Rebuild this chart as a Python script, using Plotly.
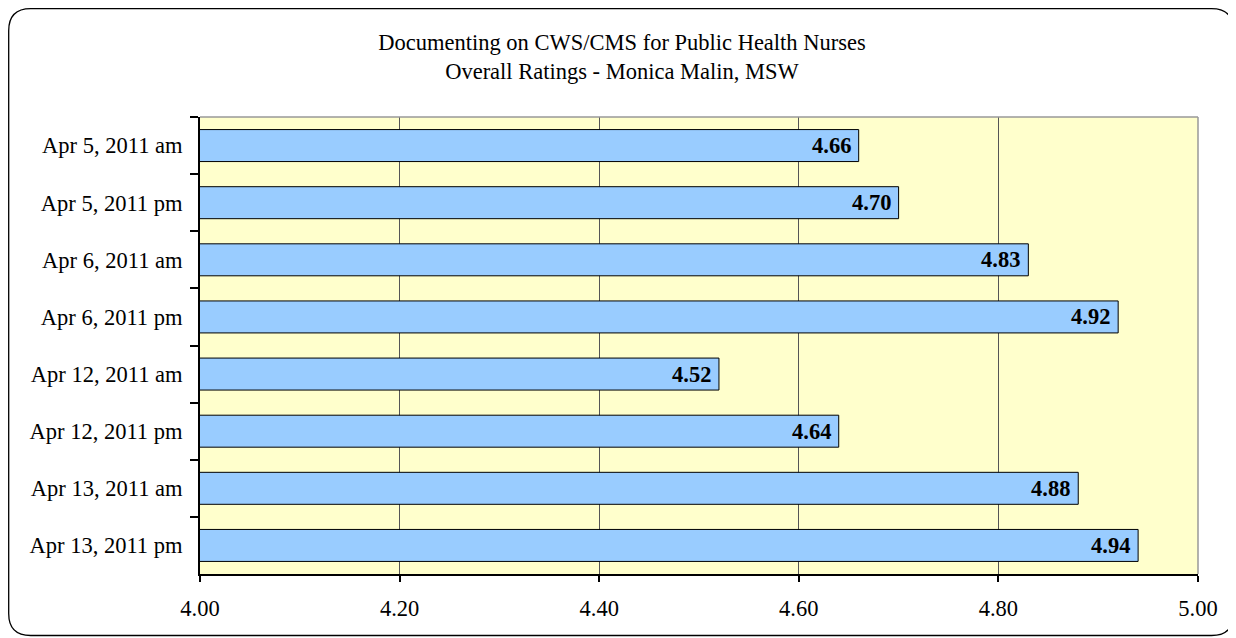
import plotly.graph_objects as go

categories = ["Apr 5, 2011 am", "Apr 5, 2011 pm", "Apr 6, 2011 am", "Apr 6, 2011 pm",
              "Apr 12, 2011 am", "Apr 12, 2011 pm", "Apr 13, 2011 am", "Apr 13, 2011 pm"]
ratings = [4.66, 4.70, 4.83, 4.92, 4.52, 4.64, 4.88, 4.94]
x_ticks = [4.0, 4.2, 4.4, 4.6, 4.8, 5.0]
title_lines = ["Documenting on CWS/CMS for Public Health Nurses",
               "Overall Ratings - Monica Malin, MSW"]

# page has an 8px body margin, so the figure is drawn 8px smaller and offset
W, H = 1228, 630
L, R, T, B = 192, 38, 109, 64
PW, PH = W - L - R, H - T - B
FONT = "Liberation Serif, Times New Roman, serif"
FS = 22.5


def px(xp):
    return (xp - L) / PW


def py(yp):
    return (H - B - yp) / PH


fig = go.Figure()
fig.add_trace(go.Bar(
    y=categories, x=ratings, base=0, orientation="h",
    marker=dict(color="#99CCFF", line=dict(color="#000000", width=1)),
    hoverinfo="x+y",
))

for c, v in zip(categories, ratings):
    fig.add_annotation(x=v, y=c, xref="x", yref="y", text="<b>%.2f</b>" % v,
                       showarrow=False, xanchor="right", xshift=-6,
                       font=dict(family=FONT, size=FS, color="#000000"))

# rounded outer border
x0, x1 = px(0.7), px(1225.5)
y0, y1 = py(627.5), py(0.7)
rx, ry = 22 / PW, 22 / PH
path = (f"M {x0 + rx},{y1} L {x1 - rx},{y1} Q {x1},{y1} {x1},{y1 - ry} "
        f"L {x1},{y0 + ry} Q {x1},{y0} {x1 - rx},{y0} L {x0 + rx},{y0} "
        f"Q {x0},{y0} {x0},{y0 + ry} L {x0},{y1 - ry} Q {x0},{y1} {x0 + rx},{y1} Z")
fig.add_shape(type="path", path=path, xref="paper", yref="paper",
              line=dict(color="#000000", width=1.3), layer="above")
# top and right plot border (gray)
fig.add_shape(type="line", xref="paper", yref="paper", x0=0, x1=1, y0=1, y1=1,
              line=dict(color="#999999", width=1.5))
fig.add_shape(type="line", xref="paper", yref="paper", x0=1, x1=1, y0=0, y1=1,
              line=dict(color="#999999", width=1.5))

fig.update_layout(
    width=W, height=H,
    margin=dict(l=L, r=R, t=T, b=B),
    paper_bgcolor="#FFFFFF",
    plot_bgcolor="#FFFFCC",
    bargap=0.44,
    showlegend=False,
    font=dict(family=FONT, size=FS, color="#000000"),
    title=dict(text="<br>".join(title_lines), x=0.5, xanchor="center",
               y=(H - 42) / H, yanchor="top", yref="container",
               font=dict(family=FONT, size=FS, color="#000000")),
    xaxis=dict(range=[4.0, 5.0], tickvals=x_ticks,
               ticktext=["%.2f" % t for t in x_ticks],
               showgrid=True, gridcolor="#555555", gridwidth=1,
               showline=True, linecolor="#000000", linewidth=1.5,
               ticks="outside", ticklen=6, tickcolor="#000000", tickwidth=1.5,
               ticklabelstandoff=7,
               zeroline=False, fixedrange=True),
    yaxis=dict(autorange="reversed", type="category",
               showline=True, linecolor="#000000", linewidth=1.5,
               ticks="outside", ticklen=8, tickcolor="#000000", tickwidth=1.5,
               tickson="boundaries", showgrid=False, ticksuffix="  ",
               fixedrange=True),
)

fig.write_html("out.html")
